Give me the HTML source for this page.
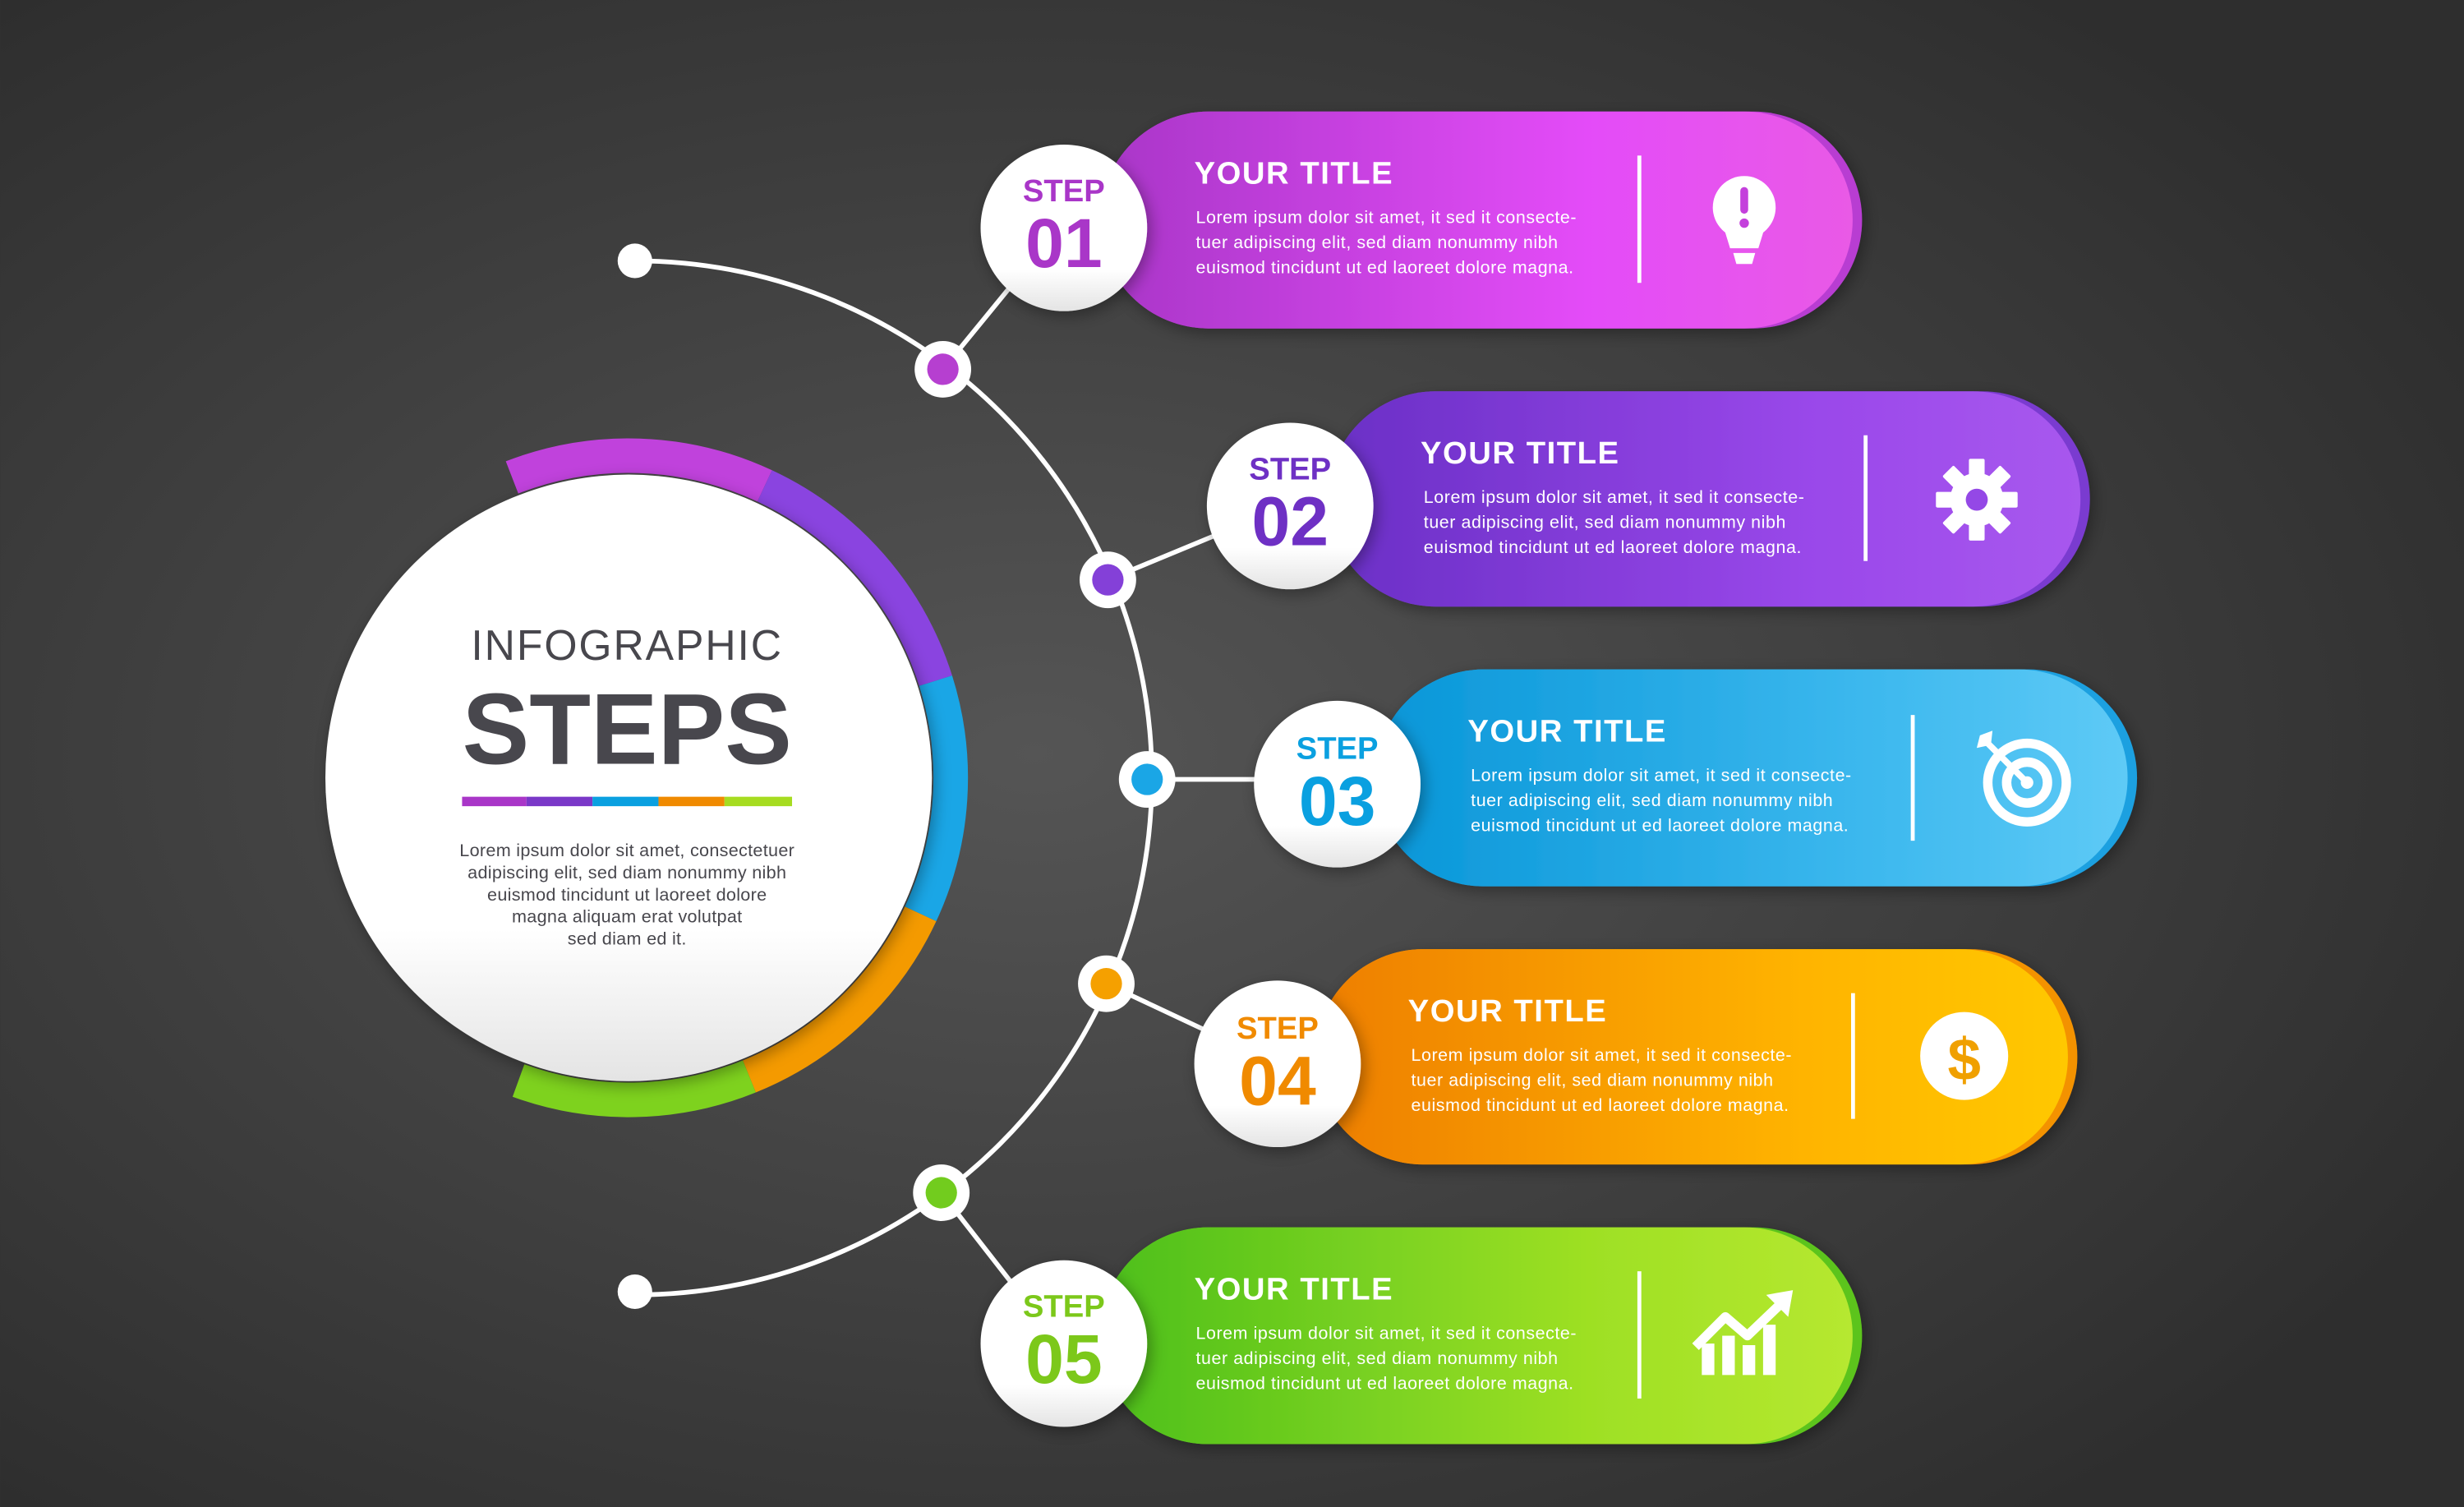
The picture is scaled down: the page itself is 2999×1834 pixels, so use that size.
<!DOCTYPE html>
<html><head><meta charset="utf-8"><style>
html,body{margin:0;padding:0;background:#333;}
svg{display:block;}
text{font-family:"Liberation Sans",sans-serif;}
</style></head><body>
<svg width="2999" height="1834" viewBox="0 0 1568 959" xmlns="http://www.w3.org/2000/svg">
<defs>
<radialGradient id="bg" cx="0.42" cy="0.5" r="0.65">
<stop offset="0" stop-color="#555"/><stop offset="1" stop-color="#2e2e2e"/></radialGradient>
<linearGradient id="wc" x1="0" y1="0" x2="0" y2="1"><stop offset="0.75" stop-color="#fff"/><stop offset="1" stop-color="#e4e4e4"/></linearGradient>
<linearGradient id="g1" x1="0" x2="1"><stop offset="0" stop-color="#a936c8"/><stop offset="0.65" stop-color="#e44cf8"/><stop offset="1" stop-color="#e95ae6"/></linearGradient>
<linearGradient id="g2" x1="0" x2="1"><stop offset="0" stop-color="#6a2fc6"/><stop offset="0.65" stop-color="#9a48ea"/><stop offset="1" stop-color="#a858ee"/></linearGradient>
<linearGradient id="g3" x1="0" x2="1"><stop offset="0" stop-color="#0896d8"/><stop offset="0.65" stop-color="#3cb8ee"/><stop offset="1" stop-color="#5ecaf6"/></linearGradient>
<linearGradient id="g4" x1="0" x2="1"><stop offset="0" stop-color="#ee7e00"/><stop offset="0.65" stop-color="#ffb400"/><stop offset="1" stop-color="#ffc800"/></linearGradient>
<linearGradient id="g5" x1="0" x2="1"><stop offset="0" stop-color="#4cbf1c"/><stop offset="0.65" stop-color="#9ee024"/><stop offset="1" stop-color="#b6e830"/></linearGradient>
<filter id="sh" x="-30%" y="-30%" width="160%" height="160%"><feDropShadow dx="2" dy="3" stdDeviation="5" flood-color="#000" flood-opacity="0.35"/></filter>
</defs>
<rect width="1568" height="959" fill="url(#bg)"/>

<g fill="none" stroke-width="22">
<path d="M325.8,303.8 A205,205 0 0 1 486.6,309.2" stroke="#c042dc"/>
<path d="M486.6,309.2 A205,205 0 0 1 595.4,433.2" stroke="#8a44e0"/>
<path d="M595.4,433.2 A205,205 0 0 1 585.8,581.6" stroke="#1aa6e6"/>
<path d="M585.8,581.6 A205,205 0 0 1 476.8,685" stroke="#f49a00"/>
<path d="M476.8,685 A205,205 0 0 1 329.9,687.6" stroke="#7ed21e"/>
</g>
<circle cx="400" cy="495" r="193" fill="url(#wc)" filter="url(#sh)"/>
<text x="399" y="420" font-size="27" fill="#48474d" text-anchor="middle" letter-spacing="1">INFOGRAPHIC</text>
<text x="399" y="486" font-size="64" fill="#48474d" text-anchor="middle" font-weight="bold">STEPS</text>
<g stroke-width="6" stroke-linecap="butt">
<line x1="294" y1="510" x2="335" y2="510" stroke="#a936c8"/>
<line x1="335" y1="510" x2="377" y2="510" stroke="#7a38c8"/>
<line x1="377" y1="510" x2="419" y2="510" stroke="#0aa0e0"/>
<line x1="419" y1="510" x2="461" y2="510" stroke="#f08a00"/>
<line x1="461" y1="510" x2="504" y2="510" stroke="#a6dc20"/>
</g>
<g font-size="11.3" fill="#48474d" text-anchor="middle" letter-spacing="0.15">
<text x="399" y="545">Lorem ipsum dolor sit amet, consectetuer</text>
<text x="399" y="559">adipiscing elit, sed diam nonummy nibh</text>
<text x="399" y="573">euismod tincidunt ut laoreet dolore</text>
<text x="399" y="587">magna aliquam erat volutpat</text>
<text x="399" y="601">sed diam ed  it.</text>
</g>

<path d="M404,166 A329,329 0 0 1 404,824" fill="none" stroke="#fff" stroke-width="3"/>
<circle cx="404" cy="166" r="11" fill="#fff"/>
<circle cx="404" cy="822" r="11" fill="#fff"/>

<g stroke="#fff" stroke-width="3">
<line x1="600" y1="235" x2="645" y2="180"/>
<line x1="705" y1="369" x2="775" y2="340"/>
<line x1="730" y1="496" x2="805" y2="496"/>
<line x1="704" y1="626" x2="770" y2="657"/>
<line x1="599" y1="759" x2="645" y2="818"/>
</g>
<g>
<circle cx="600" cy="235" r="18" fill="#fff"/><circle cx="600" cy="235" r="10" fill="#b63fd0"/>
<circle cx="705" cy="369" r="18" fill="#fff"/><circle cx="705" cy="369" r="10" fill="#8440d8"/>
<circle cx="730" cy="496" r="18" fill="#fff"/><circle cx="730" cy="496" r="10" fill="#1aa6e6"/>
<circle cx="704" cy="626" r="18" fill="#fff"/><circle cx="704" cy="626" r="10" fill="#f5a000"/>
<circle cx="599" cy="759" r="18" fill="#fff"/><circle cx="599" cy="759" r="10" fill="#72cc1e"/>
</g>

<g filter="url(#sh)">
<rect x="700" y="71" width="485" height="138" rx="69" fill="#b83ed2"/>
<rect x="700" y="71" width="479" height="138" rx="69" fill="url(#g1)"/>
<rect x="845" y="249" width="485" height="137" rx="68.5" fill="#7a3bd0"/>
<rect x="845" y="249" width="479" height="137" rx="68.5" fill="url(#g2)"/>
<rect x="875" y="426" width="485" height="138" rx="69" fill="#1ba0e0"/>
<rect x="875" y="426" width="479" height="138" rx="69" fill="url(#g3)"/>
<rect x="837" y="604" width="485" height="137" rx="68.5" fill="#f39200"/>
<rect x="837" y="604" width="479" height="137" rx="68.5" fill="url(#g4)"/>
<rect x="700" y="781" width="485" height="138" rx="69" fill="#5cc41c"/>
<rect x="700" y="781" width="479" height="138" rx="69" fill="url(#g5)"/>
</g>

<g fill="#fff">
<g font-size="20" font-weight="bold" letter-spacing="0.8">
<text x="760" y="117">YOUR TITLE</text>
<text x="904" y="295">YOUR TITLE</text>
<text x="934" y="472">YOUR TITLE</text>
<text x="896" y="650">YOUR TITLE</text>
<text x="760" y="827">YOUR TITLE</text>
</g>
<g font-size="11.2" letter-spacing="0.3">
<text x="761" y="142">Lorem ipsum dolor sit amet, it sed it consecte-</text>
<text x="761" y="158">tuer adipiscing elit, sed diam nonummy nibh</text>
<text x="761" y="174">euismod tincidunt ut ed laoreet dolore magna.</text>
<text x="906" y="320">Lorem ipsum dolor sit amet, it sed it consecte-</text>
<text x="906" y="336">tuer adipiscing elit, sed diam nonummy nibh</text>
<text x="906" y="352">euismod tincidunt ut ed laoreet dolore magna.</text>
<text x="936" y="497">Lorem ipsum dolor sit amet, it sed it consecte-</text>
<text x="936" y="513">tuer adipiscing elit, sed diam nonummy nibh</text>
<text x="936" y="529">euismod tincidunt ut ed laoreet dolore magna.</text>
<text x="898" y="675">Lorem ipsum dolor sit amet, it sed it consecte-</text>
<text x="898" y="691">tuer adipiscing elit, sed diam nonummy nibh</text>
<text x="898" y="707">euismod tincidunt ut ed laoreet dolore magna.</text>
<text x="761" y="852">Lorem ipsum dolor sit amet, it sed it consecte-</text>
<text x="761" y="868">tuer adipiscing elit, sed diam nonummy nibh</text>
<text x="761" y="884">euismod tincidunt ut ed laoreet dolore magna.</text>
</g>
<rect x="1042" y="99" width="2.5" height="81"/>
<rect x="1186" y="277" width="2.5" height="80"/>
<rect x="1216" y="455" width="2.5" height="80"/>
<rect x="1178" y="632" width="2.5" height="80"/>
<rect x="1042" y="809" width="2.5" height="81"/>
</g>

<g>
<circle cx="1110" cy="132" r="20" fill="#fff"/>
<path d="M1097,145 L1123,145 L1119,158 L1101,158 Z" fill="#fff"/>
<path d="M1103,161 L1117,161 L1115,168 L1105,168 Z" fill="#fff"/>
<rect x="1107.5" y="119" width="5" height="17" rx="2.5" fill="#c440dc"/>
<circle cx="1110" cy="142" r="3" fill="#c440dc"/>
</g>
<g transform="translate(1258,318)" fill="#fff">
<circle r="17"/>
<rect x="-5" y="-26" width="10" height="52" rx="1"/>
<rect x="-5" y="-26" width="10" height="52" rx="1" transform="rotate(45)"/>
<rect x="-5" y="-26" width="10" height="52" rx="1" transform="rotate(90)"/>
<rect x="-5" y="-26" width="10" height="52" rx="1" transform="rotate(135)"/>
<circle r="7" fill="#9448e6"/>
</g>
<g transform="translate(1290,498)" fill="none" stroke="#fff">
<circle r="25" stroke-width="6"/>
<circle r="13" stroke-width="6"/>
<circle r="4" fill="#fff" stroke="none"/>
<line x1="0" y1="0" x2="-26" y2="-26" stroke-width="4"/>
<path d="M-30,-30 L-22,-33 L-23,-24 L-32,-22 Z" fill="#fff" stroke="none"/>
</g>
<g>
<circle cx="1250" cy="672" r="28" fill="#fff"/>
<text x="1250" y="687" font-size="38" font-weight="bold" fill="#f0a000" text-anchor="middle">$</text>
</g>
<g fill="#fff">
<rect x="1083" y="855" width="8" height="20"/>
<rect x="1096" y="850" width="8" height="25"/>
<rect x="1109" y="856" width="8" height="19"/>
<rect x="1122" y="843" width="8" height="32"/>
<polyline points="1079,857 1098,838 1112,850 1134,829" fill="none" stroke="#fff" stroke-width="6" stroke-linejoin="round"/>
<path d="M1124,824 L1141,821 L1138,838 Z"/>
</g>

<g filter="url(#sh)" fill="url(#wc)">
<circle cx="677" cy="145" r="53"/>
<circle cx="821" cy="322" r="53"/>
<circle cx="851" cy="499" r="53"/>
<circle cx="813" cy="677" r="53"/>
<circle cx="677" cy="855" r="53"/>
</g>
<g font-weight="bold" text-anchor="middle">
<text x="677" y="128" font-size="20" fill="#a936c8">STEP</text>
<text x="677" y="170" font-size="44" fill="#a936c8">01</text>
<text x="821" y="305" font-size="20" fill="#6e30c4">STEP</text>
<text x="821" y="347" font-size="44" fill="#6e30c4">02</text>
<text x="851" y="483" font-size="20" fill="#0aa0e0">STEP</text>
<text x="851" y="525" font-size="44" fill="#0aa0e0">03</text>
<text x="813" y="661" font-size="20" fill="#f08a00">STEP</text>
<text x="813" y="703" font-size="44" fill="#f08a00">04</text>
<text x="677" y="838" font-size="20" fill="#7cc81a">STEP</text>
<text x="677" y="880" font-size="44" fill="#7cc81a">05</text>
</g>
</svg>
</body></html>
